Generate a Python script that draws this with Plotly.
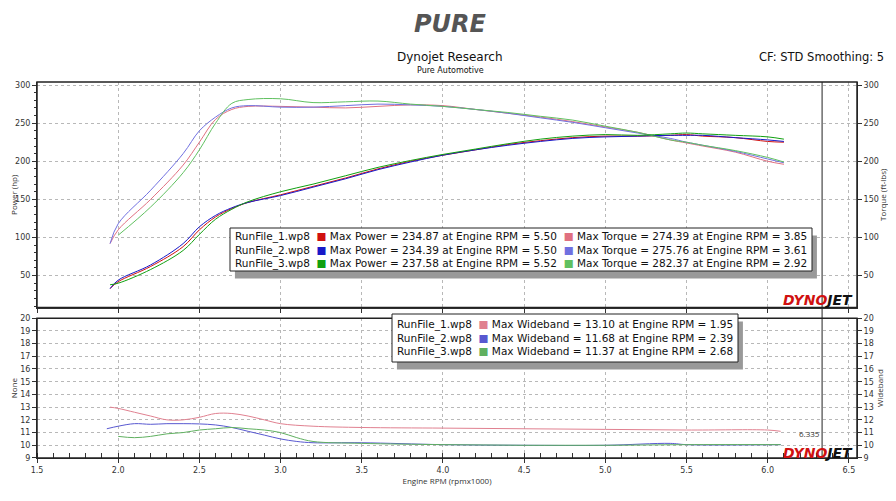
import plotly.graph_objects as go

rpm_p = [1.95,2.0,2.2,2.4,2.5,2.6,2.7,2.8,3.0,3.2,3.4,3.6,3.8,4.0,4.2,4.4,4.6,4.8,5.0,5.2,5.4,5.5,5.6,5.8,6.0,6.1]
power1 = [33,42,62,88,110,127,138,146,156,167,178,190,200,208,215,222,227,231,233,233,234,235,233,231,226,225]
power2 = [33,44,64,92,114,129,139,146,155,166,177,189,199,208,215,221,226,230,232,233,234,234,234,231,228,226]
power3 = [38,40,58,83,104,124,137,147,160,170,181,192,201,209,216,223,229,233,235,234,236,237,236,234,232,229]
torque1 = [92,110,150,195,225,255,268,272,272,271,270,272,274,273,268,263,258,252,245,238,228,224,220,212,200,196]
torque2 = [92,118,162,210,240,258,270,273,271,271,273,275,274,272,268,263,257,251,244,237,230,225,221,213,203,198]
torque3 = [None,103,140,185,215,250,276,281,282,277,278,279,275,272,268,264,259,254,246,238,228,225,221,214,205,199]

rpm_w1 = [1.95,2.0,2.1,2.2,2.3,2.4,2.5,2.6,2.7,2.8,2.9,3.0,3.2,3.5,4.0,4.5,5.0,5.5,6.0,6.08]
wide1 = [13.0,12.9,12.6,12.3,12.0,12.0,12.2,12.5,12.5,12.3,12.0,11.7,11.5,11.4,11.35,11.3,11.25,11.2,11.2,11.1]
rpm_w2 = [1.93,2.0,2.1,2.2,2.3,2.4,2.5,2.6,2.7,2.8,2.9,3.0,3.1,3.2,3.5,4.0,4.5,5.0,5.4,5.5,6.08]
wide2 = [11.3,11.5,11.7,11.65,11.7,11.7,11.68,11.6,11.4,11.1,10.8,10.5,10.3,10.2,10.2,10.05,10.0,10.0,10.15,10.05,10.05]
rpm_w3 = [2.0,2.1,2.2,2.3,2.4,2.5,2.6,2.7,2.8,2.9,3.0,3.1,3.2,3.5,4.0,4.5,5.0,5.5,6.08]
wide3 = [10.7,10.6,10.7,10.9,11.0,11.2,11.3,11.4,11.3,11.2,11.0,10.6,10.3,10.15,10.05,10.0,10.0,10.05,10.05]

runs = ["RunFile_1.wp8","RunFile_2.wp8","RunFile_3.wp8"]
pcol = ["#d01010","#1818c8","#10a010"]
tcol = ["#e07080","#7070e0","#60c060"]
wcol = ["#e08090","#5858d0","#60b060"]
maxp = ["234.87 at Engine RPM = 5.50","234.39 at Engine RPM = 5.50","237.58 at Engine RPM = 5.52"]
maxt = ["274.39 at Engine RPM = 3.85","275.76 at Engine RPM = 3.61","282.37 at Engine RPM = 2.92"]
maxw = ["13.10 at Engine RPM = 1.95","11.68 at Engine RPM = 2.39","11.37 at Engine RPM = 2.68"]

fig = go.Figure()
for p,t,pc,tc in zip([power1,power2,power3],[torque1,torque2,torque3],pcol,tcol):
    fig.add_trace(go.Scatter(x=rpm_p,y=t,mode="lines",line=dict(color=tc,width=1,shape="spline"),xaxis="x",yaxis="y"))
    fig.add_trace(go.Scatter(x=rpm_p,y=p,mode="lines",line=dict(color=pc,width=1,shape="spline"),xaxis="x",yaxis="y"))
for xs,ys,c in zip([rpm_w1,rpm_w2,rpm_w3],[wide1,wide2,wide3],wcol):
    fig.add_trace(go.Scatter(x=xs,y=ys,mode="lines",line=dict(color=c,width=1,shape="spline"),xaxis="x2",yaxis="y3"))
fig.add_trace(go.Scatter(x=[6.0,6.3],y=[None,None],xaxis="x",yaxis="y2",showlegend=False))
fig.add_trace(go.Scatter(x=[6.0,6.3],y=[None,None],xaxis="x2",yaxis="y4",showlegend=False))

XR=[1.5,6.55]
grid = dict(showgrid=True,gridcolor="#b8b8b8",griddash="dot",gridwidth=1,showline=True,linecolor="#333",mirror=False,automargin=False,
            ticks="outside",ticklen=4,tickcolor="#333",tickfont=dict(size=8,family="DejaVu Sans",color="#333"),zeroline=False)
ng = {k:v for k,v in grid.items() if k!="showgrid"}
fig.update_layout(
    width=880,height=485,margin=dict(l=29,r=31,t=74,b=35),plot_bgcolor="white",paper_bgcolor="white",showlegend=False,
    xaxis=dict(domain=[0,1],range=XR,anchor="y",showticklabels=False,dtick=0.5,**grid),
    xaxis2=dict(domain=[0,1],range=XR,anchor="y3",dtick=0.5,tickformat=".1f",
                minor=dict(dtick=0.1,ticks="inside",ticklen=5,tickcolor="#333"),
                title=dict(text="Engine RPM (rpmx1000)",font=dict(size=8,color="#333"),standoff=4),**grid),
    yaxis=dict(domain=[0.40,1],range=[8,304],dtick=50,title=dict(text="Power (hp)",font=dict(size=8,color="#333"),standoff=2),
               minor=dict(dtick=10,ticks="outside",ticklen=2,tickcolor="#333"),**grid),
    yaxis2=dict(overlaying="y",side="right",range=[8,304],dtick=50,anchor="x",
                title=dict(text="Torque (ft-lbs)",font=dict(size=8,color="#333"),standoff=0),showgrid=False,**ng),
    yaxis3=dict(domain=[0,0.372],range=[9,20],dtick=1,title=dict(text="None",font=dict(size=8,color="#333"),standoff=2),**grid),
    yaxis4=dict(overlaying="y3",side="right",range=[9,20],dtick=1,anchor="x2",
                title=dict(text="Wideband",font=dict(size=8,color="#333"),standoff=0),showgrid=False,**ng),
)
for yr in ["y","y3"]:
    fig.add_shape(type="rect",xref="x domain",yref=yr+" domain",x0=0,x1=1,y0=0,y1=1,line=dict(color="#222",width=1.5))
fig.add_shape(type="line",xref="x",yref="paper",x0=6.335,x1=6.335,y0=0,y1=1,line=dict(color="#222",width=1))
fig.add_annotation(x=6.335,y=10.9,xref="x2",yref="y3",text="6.335",showarrow=False,xanchor="right",font=dict(size=8,color="#333"))

def legend(x0,y0,x1,y1,lines):
    fig.add_shape(type="rect",xref="paper",yref="paper",x0=x0+0.006,x1=x1+0.006,y0=y0-0.02,y1=y1-0.02,fillcolor="#999",line=dict(width=0))
    fig.add_shape(type="rect",xref="paper",yref="paper",x0=x0,x1=x1,y0=y0,y1=y1,fillcolor="white",line=dict(color="#222",width=1))
    fig.add_annotation(xref="paper",yref="paper",x=x0+0.004,y=(y0+y1)/2,text="<br>".join(lines),showarrow=False,
                       xanchor="left",yanchor="middle",align="left",font=dict(size=10.5,family="DejaVu Sans",color="#111"))

W=820; H=376
px=lambda v:(v-37)/W
py=lambda v:(458-v)/H
legend(px(230),py(271),px(812),py(228),
       [f"{r}  <span style='color:{pc}'>■</span> Max Power = {mp}  <span style='color:{tc}'>■</span> Max Torque = {mt}"
        for r,pc,tc,mp,mt in zip(runs,pcol,tcol,maxp,maxt)])
legend(px(392),py(362),px(738),py(314),
       [f"{r}  <span style='color:{c}'>■</span> Max Wideband = {mw}" for r,c,mw in zip(runs,wcol,maxw)])

fig.add_annotation(xref="paper",yref="paper",x=px(450),y=py(24),text="<b><i>PURE</i></b>",showarrow=False,yanchor="middle",
                   font=dict(size=24,family="DejaVu Sans",color="#555"))
fig.add_annotation(xref="paper",yref="paper",x=px(450),y=py(57),text="Dynojet Research",showarrow=False,yanchor="middle",
                   font=dict(size=12,family="DejaVu Sans",color="#111"))
fig.add_annotation(xref="paper",yref="paper",x=px(450),y=py(71),text="Pure Automotive",showarrow=False,yanchor="middle",
                   font=dict(size=8,family="DejaVu Sans",color="#111"))
fig.add_annotation(xref="paper",yref="paper",x=px(886),y=py(57),text="CF: STD Smoothing: 5",showarrow=False,yanchor="middle",xanchor="right",
                   font=dict(size=11.5,family="DejaVu Sans",color="#111"))
for yv in [300,453]:
    fig.add_annotation(xref="paper",yref="paper",x=px(855),y=py(yv),text="<b><i><span style='color:#d01010'>DYNO</span>JET</i></b>",
                       showarrow=False,xanchor="right",yanchor="middle",font=dict(size=14,family="DejaVu Sans",color="#111"))
fig.write_html("out.html")
